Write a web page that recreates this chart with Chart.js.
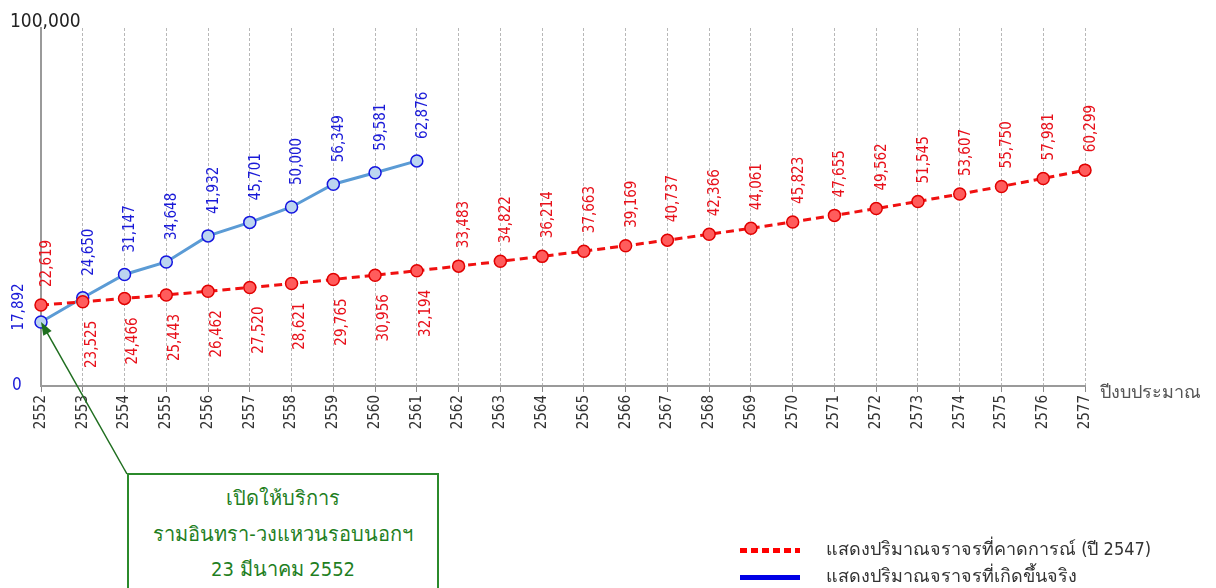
<!doctype html>
<html lang="th">
  <head>
    <meta charset="utf-8">
    <title>ปริมาณจราจร</title>
    <style>
      * { margin: 0; padding: 0; }
      body { width: 1216px; height: 588px; background: #fff; overflow: hidden; font-family: "DejaVu Sans Condensed", "Noto Sans", sans-serif; }
      .wrap { position: relative; width: 1216px; height: 588px; }
      .note {
        position: absolute; left: 127px; top: 473px; width: 308px; height: 130px;
        border: 2px solid #2b8a2b; background: #fff;
        color: #1f7f1f; font-size: 20px; text-align: center; line-height: 35.5px;
        padding-top: 6px;
      }
      .legend { position: absolute; left: 740px; top: 535px; color: #333; font-size: 18px; }
      .legend div { height: 27px; line-height: 27px; white-space: nowrap; }
      .legend span { display: inline-block; width: 60px; height: 5px; margin-right: 26px; vertical-align: middle; }
      .dash { background: repeating-linear-gradient(90deg, #f00 0 7px, transparent 7px 11px); }
      .solid { background: #0000e6; }
    </style>
  </head>
  <body>
    <div class="wrap">
      <canvas id="myChart" width="1216" height="588"></canvas>
      <div class="note">เปิดให้บริการ<br>รามอินทรา-วงแหวนรอบนอกฯ<br>23 มีนาคม 2552</div>
      <div class="legend">
        <div><span class="dash"></span>แสดงปริมาณจราจรที่คาดการณ์ (ปี 2547)</div>
        <div><span class="solid"></span>แสดงปริมาณจราจรที่เกิดขึ้นจริง</div>
      </div>
    </div>

    <script src="https://cdn.jsdelivr.net/npm/chart.js/dist/chart.umd.min.js"></script>
    <script>
    // data
    const years = ['2552','2553','2554','2555','2556','2557','2558','2559','2560','2561','2562','2563','2564',
                   '2565','2566','2567','2568','2569','2570','2571','2572','2573','2574','2575','2576','2577'];
    const forecast = [22619, 23525, 24466, 25443, 26462, 27520, 28621, 29765, 30956, 32194, 33483, 34822, 36214,
                      37663, 39169, 40737, 42366, 44061, 45823, 47655, 49562, 51545, 53607, 55750, 57981, 60299];
    const actual = [17892, 24650, 31147, 34648, 41932, 45701, 50000, 56349, 59581, 62876];
    const yTicks = [0, 100000];
    const xTitle = 'ปีงบประมาณ';

    const fam = '"DejaVu Sans Condensed", "Noto Sans", sans-serif';
    const numFont = '15px ' + fam;

    // value labels, rotated like the original
    const valueLabels = {
      id: 'valueLabels',
      afterDatasetsDraw(chart) {
        const ctx = chart.ctx;
        ctx.save();
        ctx.font = numFont;
        ctx.textBaseline = 'middle';
        chart.data.datasets.forEach((ds, di) => {
          const meta = chart.getDatasetMeta(di);
          meta.data.forEach((pt, i) => {
            const v = ds.data[i];
            if (v == null) return;
            const txt = v.toLocaleString('en-US');
            ctx.save();
            ctx.fillStyle = ds.labelColor;
            if (di === 1 && i === 0) {
              // first actual value sits to the left of its point
              ctx.translate(pt.x - 22, pt.y - 15);
              ctx.rotate(-Math.PI / 2);
              ctx.textAlign = 'center';
              ctx.fillText(txt, 0, 0);
            } else {
              const below = di === 0 && i > 0 && actual[i] != null;
              ctx.translate(pt.x + (below ? 9 : 6), pt.y);
              ctx.rotate(-Math.PI / 2);
              if (below) {
                ctx.textAlign = 'right';
                ctx.fillText(txt, -19, 0);
              } else {
                ctx.textAlign = 'left';
                ctx.fillText(txt, di === 1 ? 22 : 18, 0);
              }
            }
            ctx.restore();
          });
        });
        ctx.restore();
      }
    };

    // axis texts and the arrow to the opening point
    const extras = {
      id: 'extras',
      afterDraw(chart) {
        const { ctx, scales: { x, y } } = chart;
        ctx.save();
        ctx.font = '19px ' + fam;
        ctx.fillStyle = '#222';
        ctx.textAlign = 'left';
        ctx.textBaseline = 'middle';
        ctx.fillText(yTicks[1].toLocaleString('en-US'), 10, y.getPixelForValue(yTicks[1]) - 6);
        ctx.font = '17px ' + fam;
        ctx.fillStyle = '#1a1ad8';
        ctx.fillText(String(yTicks[0]), 12, y.getPixelForValue(yTicks[0]));
        ctx.font = '18px ' + fam;
        ctx.fillStyle = '#555';
        ctx.fillText(xTitle, x.right + 15, y.getPixelForValue(0) + 7);

        // arrow
        const tx = x.getPixelForValue(0), ty = y.getPixelForValue(actual[0]);
        const fx = 127, fy = 474;
        const ang = Math.atan2(ty - fy, tx - fx);
        ctx.strokeStyle = '#1f6e1f';
        ctx.fillStyle = '#1f6e1f';
        ctx.lineWidth = 1.5;
        ctx.beginPath();
        ctx.moveTo(fx, fy);
        ctx.lineTo(tx - Math.cos(ang) * 6, ty - Math.sin(ang) * 6);
        ctx.stroke();
        ctx.beginPath();
        ctx.moveTo(tx, ty);
        ctx.lineTo(tx - 14 * Math.cos(ang - 0.35), ty - 14 * Math.sin(ang - 0.35));
        ctx.lineTo(tx - 14 * Math.cos(ang + 0.35), ty - 14 * Math.sin(ang + 0.35));
        ctx.closePath();
        ctx.fill();
        ctx.restore();
      }
    };

    const config = {
      type: 'line',
      data: {
        labels: years,
        datasets: [{
          label: 'คาดการณ์',
          data: forecast,
          borderColor: '#f01010',
          borderWidth: 3,
          borderDash: [8, 5],
          pointRadius: 6,
          pointBackgroundColor: '#ff5c5c',
          pointBorderColor: '#e00000',
          pointBorderWidth: 1.5,
          labelColor: '#e8101a',
          tension: 0
        }, {
          label: 'เกิดขึ้นจริง',
          data: actual,
          borderColor: '#5b9bd5',
          borderWidth: 3,
          pointRadius: 6,
          pointBackgroundColor: '#bcd5f0',
          pointBorderColor: '#1414e0',
          pointBorderWidth: 1.5,
          labelColor: '#1a1ad8',
          tension: 0
        }]
      },
      options: {
        responsive: false,
        animation: false,
        layout: { padding: { left: 0, top: 28, right: 131, bottom: 0 } },
        plugins: { legend: { display: false }, tooltip: { enabled: false } },
        scales: {
          x: {
            grid: { color: '#b8b8b8', lineWidth: 1, tickColor: '#8a8a8a', tickLength: 6, tickBorderDash: [] },
            border: { color: '#9a9a9a', width: 2, dash: [3, 2] },
            ticks: { color: '#333', font: { size: 15, family: fam },
                     minRotation: 90, maxRotation: 90, autoSkip: false, padding: 3 },
            afterFit(scale) { scale.height = 202; }
          },
          y: {
            min: 0, max: 100000,
            grid: { display: false },
            border: { color: '#9a9a9a', width: 2 },
            ticks: { display: false },
            afterFit(scale) { scale.width = 41; }
          }
        }
      },
      plugins: [valueLabels, extras]
    };

    const myChart = new Chart(document.getElementById('myChart'), config);
    </script>
  </body>
</html>
